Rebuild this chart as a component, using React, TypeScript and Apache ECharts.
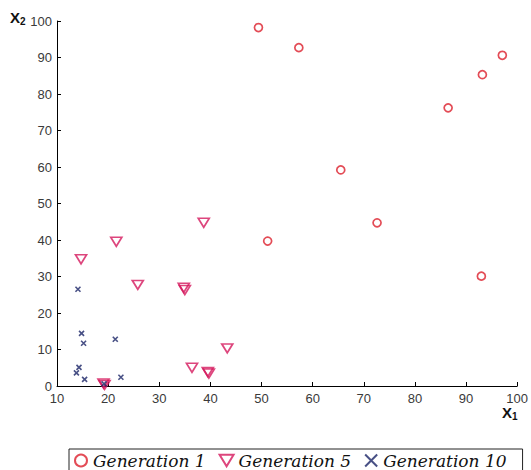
import React, { useEffect, useRef } from "react";
import * as echarts from "echarts";

const seriesNames = ["Generation 1", "Generation 5", "Generation 10"];

const gen1: [number, number][] = [
  [49.4, 98.2],
  [57.3, 92.7],
  [97.1, 90.6],
  [93.2, 85.3],
  [86.5, 76.2],
  [65.5, 59.2],
  [72.6, 44.7],
  [51.2, 39.7],
  [93.0, 30.1],
];

const gen5: [number, number][] = [
  [14.7, 34.7],
  [21.6, 39.5],
  [38.7, 44.7],
  [25.8, 27.7],
  [34.8, 26.9],
  [35.0, 26.3],
  [43.3, 10.3],
  [36.4, 5.0],
  [39.5, 3.8],
  [39.7, 3.4],
  [19.1, 0.7],
  [19.3, 0.3],
];

const gen10: [number, number][] = [
  [14.1, 26.5],
  [14.8, 14.4],
  [15.2, 11.7],
  [21.4, 12.8],
  [14.3, 5.1],
  [13.8, 3.6],
  [15.4, 1.8],
  [22.5, 2.4],
  [19.2, 0.6],
];

const xTicks = { min: 10, max: 100, interval: 10 };
const yTicks = { min: 0, max: 100, interval: 10 };

export default function App() {
  const ref = useRef<HTMLDivElement>(null);
  useEffect(() => {
    document.body.style.margin = "0";
    const chart = echarts.init(ref.current!, null, { renderer: "svg" });
    const axisLine = { show: true, lineStyle: { color: "#000", width: 1 } };
    const axisTick = { show: true, inside: true, length: 4, lineStyle: { color: "#000" } };
    const labelBase = { color: "#3a3a3a", fontSize: 13, fontFamily: "Liberation Sans" };
    const rich = {
      b: { fontFamily: "Liberation Sans", fontWeight: "bold", fontSize: 15, fill: "#111" },
      s: { fontFamily: "Liberation Sans", fontWeight: "bold", fontSize: 10, fill: "#111", padding: [7, 0, 0, 0] },
    };
    chart.setOption({
      animation: false,
      backgroundColor: "#fff",
      grid: { left: 57, right: 11, top: 21, bottom: 84 },
      xAxis: {
        type: "value",
        ...xTicks,
        axisLine,
        axisTick,
        splitLine: { show: false },
        axisLabel: { ...labelBase, margin: 6 },
      },
      yAxis: {
        type: "value",
        ...yTicks,
        axisLine,
        axisTick,
        splitLine: { show: false },
        axisLabel: { ...labelBase, margin: 5 },
      },
      legend: {
        left: 69,
        top: 449,
        padding: [3, 16, 20, 5],
        borderColor: "#222",
        borderWidth: 1,
        itemGap: 13,
        itemWidth: 14,
        itemHeight: 12,
        textStyle: {
          fontFamily: "DejaVu Serif",
          fontStyle: "italic",
          fontSize: 17,
          color: "#111",
        },
        data: seriesNames,
      },
      graphic: [
        { type: "text", left: 10, top: 10, style: { text: "{b|X}{s|2}", rich } },
        { type: "text", left: 502, top: 405, style: { text: "{b|X}{s|1}", rich } },
      ],
      series: [
        {
          name: seriesNames[0],
          type: "scatter",
          data: gen1,
          symbol: "circle",
          symbolSize: 8,
          itemStyle: { color: "rgba(255,255,255,0)", borderColor: "#dc1f2c", borderWidth: 1.7 },
        },
        {
          name: seriesNames[1],
          type: "scatter",
          data: gen5,
          symbol: "path://M0,0L12,0L6,10Z",
          symbolSize: [11, 9],
          itemStyle: { color: "rgba(255,255,255,0)", borderColor: "#d4185c", borderWidth: 1.7 },
        },
        {
          name: seriesNames[2],
          type: "scatter",
          data: gen10,
          symbol: "path://M0,0L10,10M10,0L0,10",
          symbolSize: 5,
          itemStyle: { color: "rgba(255,255,255,0)", borderColor: "#1a2466", borderWidth: 1.6 },
        },
      ],
    });
    return () => chart.dispose();
  }, []);
  return <div ref={ref} style={{ width: 531, height: 470 }} />;
}
